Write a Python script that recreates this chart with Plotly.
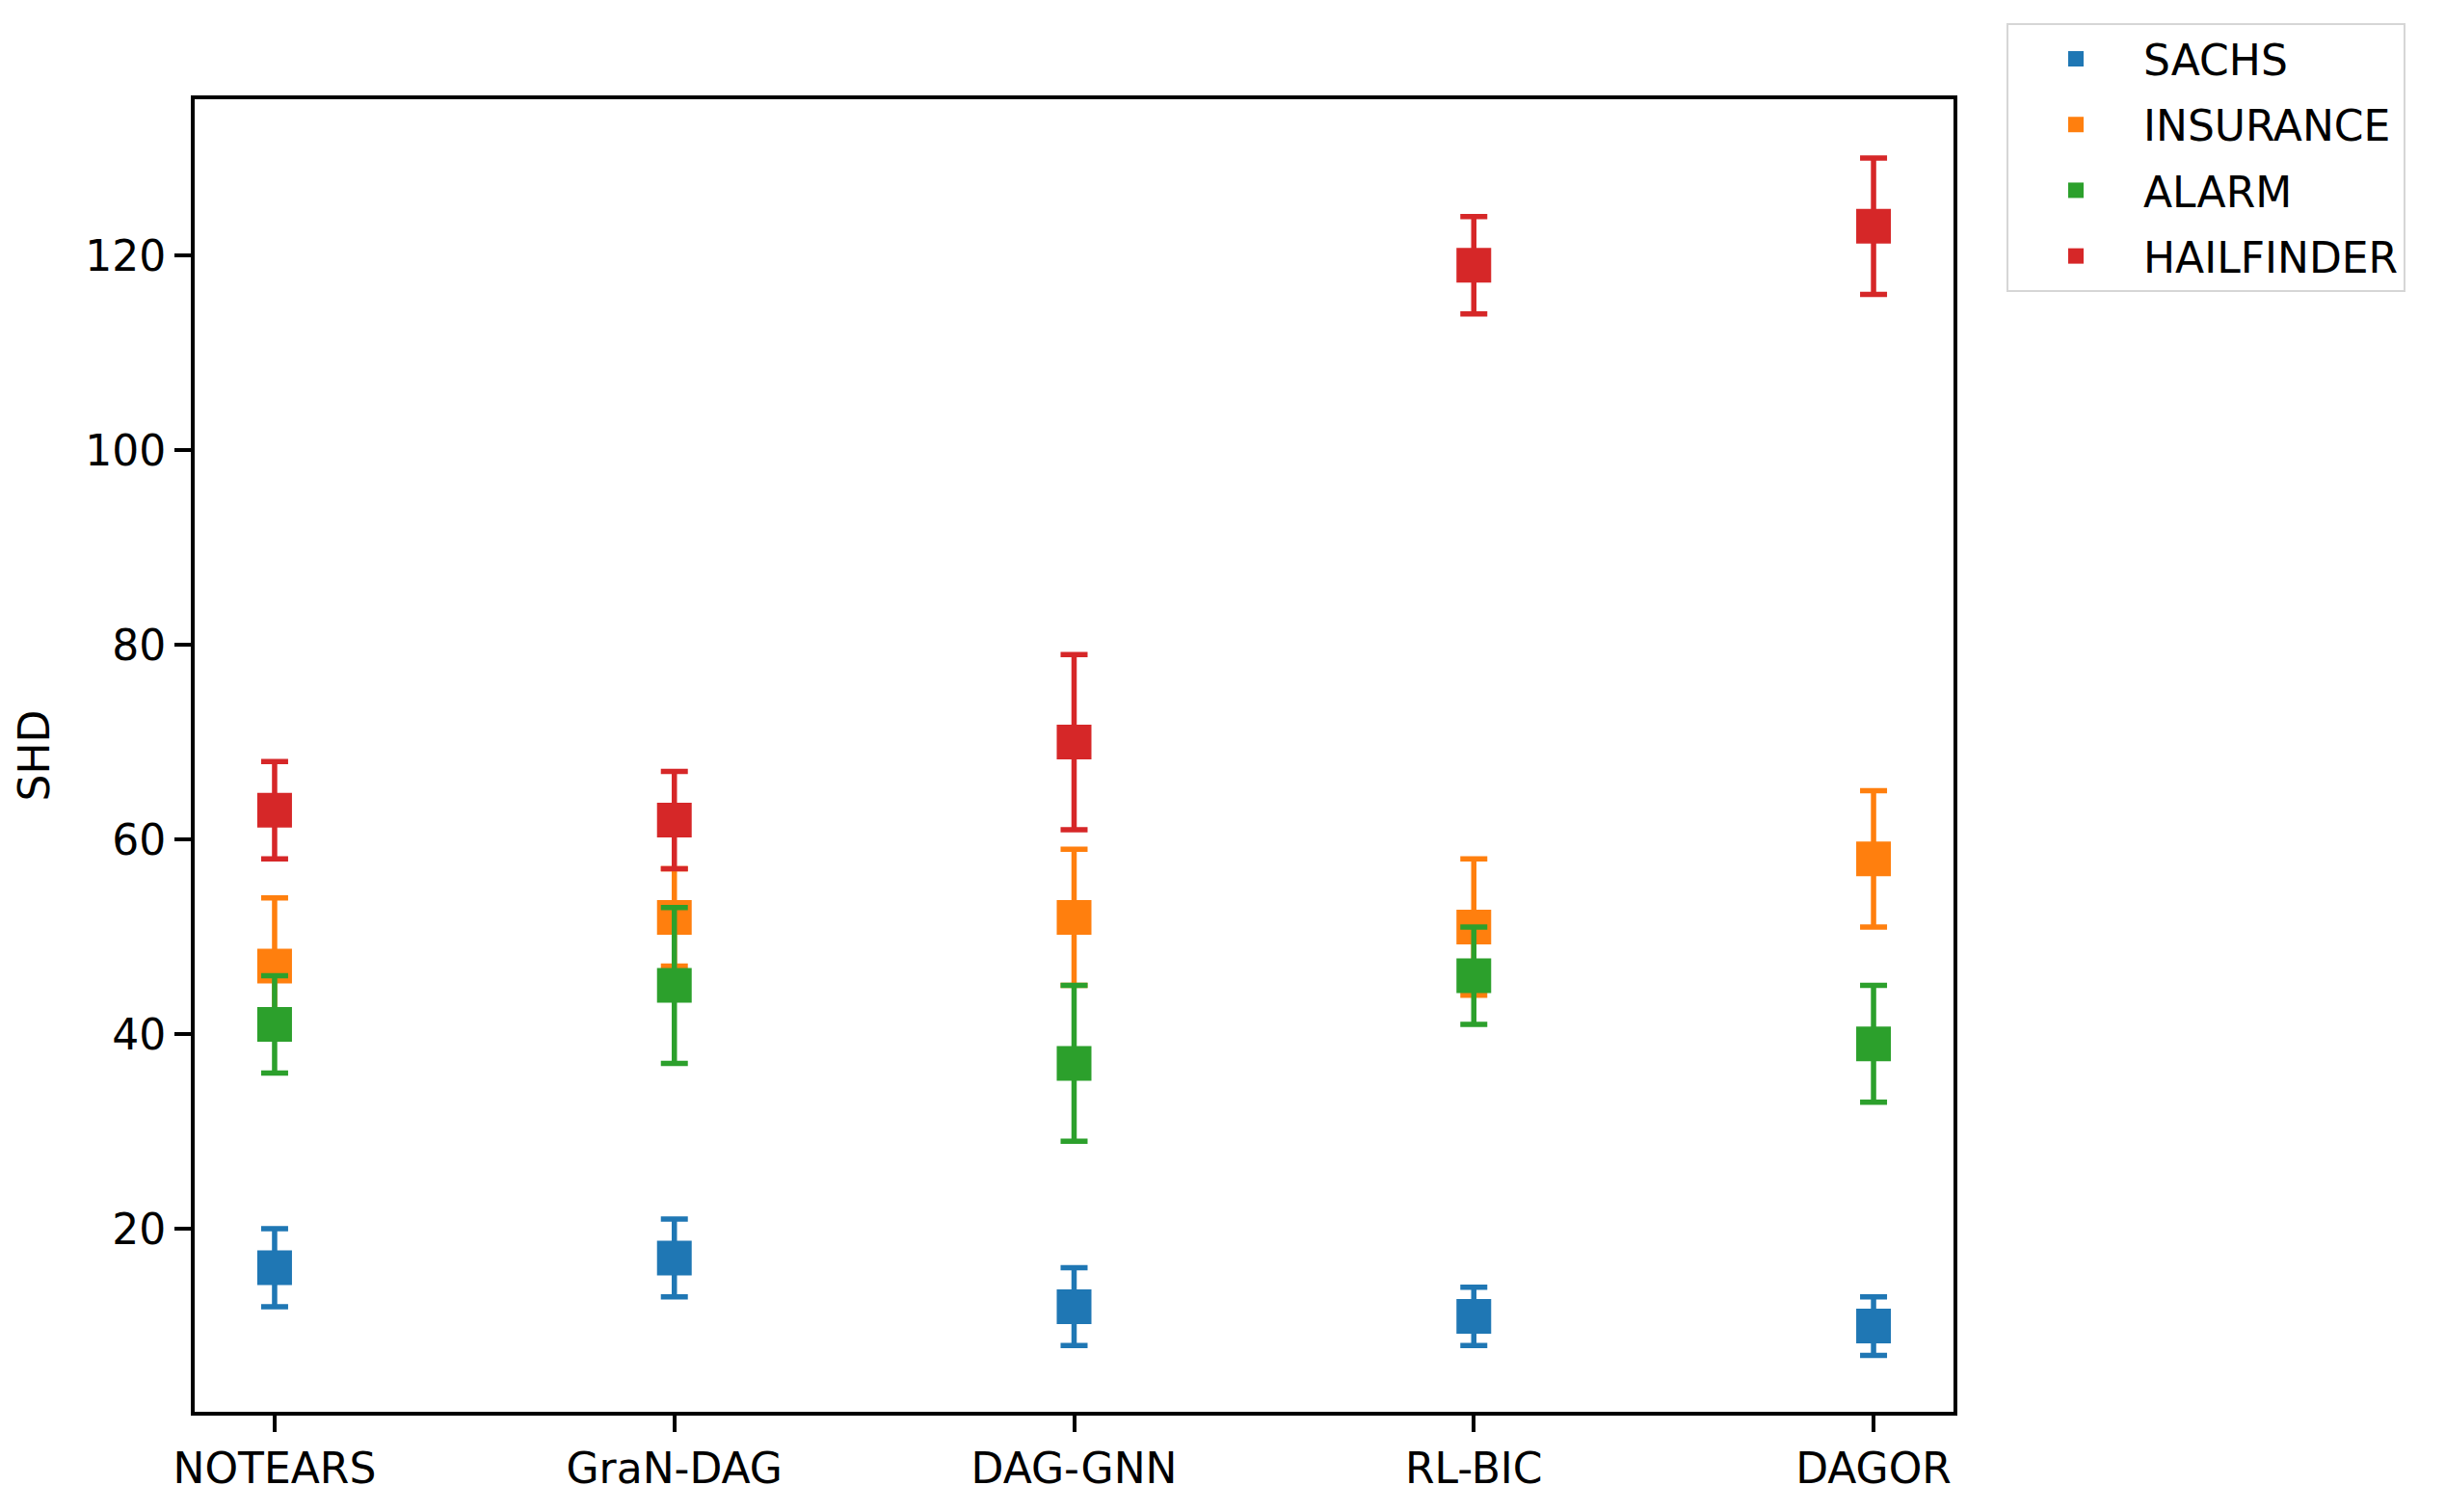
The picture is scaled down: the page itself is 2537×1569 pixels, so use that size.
import plotly.graph_objects as go

methods = ["NOTEARS", "GraN-DAG", "DAG-GNN", "RL-BIC", "DAGOR"]
series_names = ["SACHS", "INSURANCE", "ALARM", "HAILFINDER"]
sachs = [16, 17, 12, 11, 10]
sachs_err = [4, 4, 4, 3, 3]
insurance = [47, 52, 52, 51, 58]
insurance_err = [7, 5, 7, 7, 7]
alarm = [41, 45, 37, 46, 39]
alarm_err = [5, 8, 8, 5, 6]
hailfinder = [63, 62, 70, 119, 123]
hailfinder_err = [5, 5, 9, 5, 7]
colors = ["#1f77b4", "#ff7f0e", "#2ca02c", "#d62728"]

values = [sachs, insurance, alarm, hailfinder]
errors = [sachs_err, insurance_err, alarm_err, hailfinder_err]

FONT = "DejaVu Sans"
PAGE_W, PAGE_H = 2537, 1569
OFF = 8  # default body margin of the html page
W, H = PAGE_W - 2 * OFF, PAGE_H - 2 * OFF
# plot area in page pixels
PL, PR, PT, PB = 202, 2027, 103, 1481
L, R, T, B = PL - OFF, PR - OFF, PT - OFF, PB - OFF

fig = go.Figure()
for name, v, e, c in zip(series_names, values, errors, colors):
    fig.add_trace(go.Scatter(
        x=methods, y=v, name=name, mode="markers", legendgroup=name,
        marker=dict(symbol="square", size=36, color=c),
        error_y=dict(type="data", array=e, visible=True, color=c,
                     thickness=5.5, width=14),
    ))

fig.update_layout(
    width=W, height=H,
    margin=dict(l=L, r=W - R, t=T, b=H - B, pad=0),
    paper_bgcolor="white", plot_bgcolor="white",
    font=dict(family=FONT, size=44, color="black"),
    showlegend=True,
    legend=dict(
        x=(2082 - PL) / (PR - PL), y=(PB - 23) / (PB - PT),
        xanchor="left", yanchor="top",
        bgcolor="white", bordercolor="#d6d6d6", borderwidth=2,
        font=dict(family=FONT, size=44, color="black"),
        itemsizing="trace", itemwidth=130, tracegroupgap=8,
    ),
)
fig.update_xaxes(
    type="category", range=[-0.2, 4.2],
    showline=True, mirror=True, linecolor="black", linewidth=4,
    ticks="outside", ticklen=17, tickwidth=3.5, tickcolor="black",
    showgrid=False, zeroline=False,
    tickfont=dict(family=FONT, size=44, color="black"),
)
fig.update_yaxes(
    range=[1.2, 136.05], tickmode="linear", tick0=0, dtick=20,
    showline=True, mirror=True, linecolor="black", linewidth=4,
    ticks="outside", ticklen=17, tickwidth=3.5, tickcolor="black",
    showgrid=False, zeroline=False,
    tickfont=dict(family=FONT, size=44, color="black"),
    title=dict(text="SHD", standoff=24, font=dict(family=FONT, size=44, color="black")),
)

fig.write_html("out.html")
